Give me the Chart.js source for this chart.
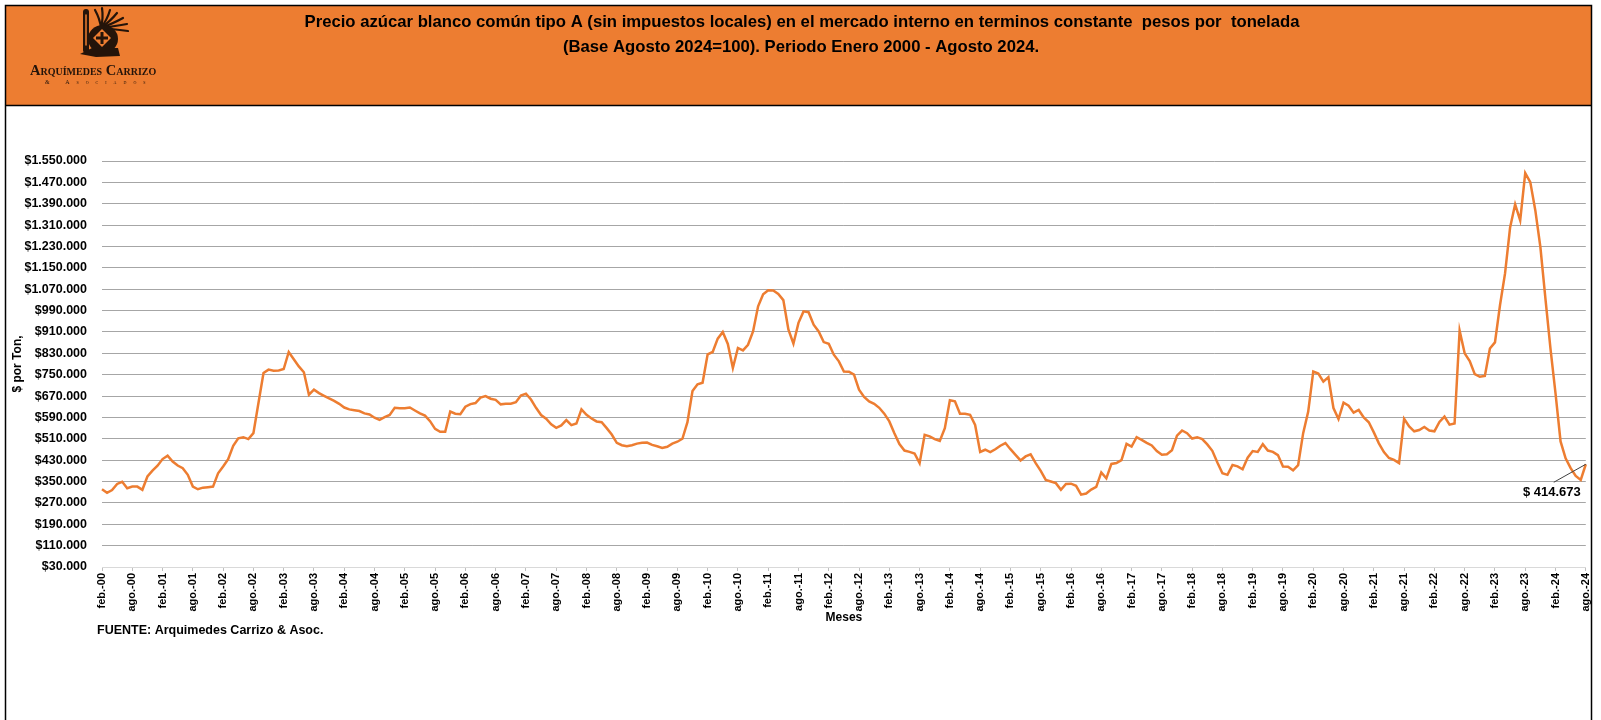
<!DOCTYPE html>
<html>
<head>
<meta charset="utf-8">
<script src="https://cdn.jsdelivr.net/npm/chart.js@4.4.1/dist/chart.umd.min.js"></script>
<style>
  html, body { margin: 0; padding: 0; background: #fff; }
  canvas { display: block; }
</style>
</head>
<body>
<canvas id="azucar" width="1601" height="720"></canvas>
<script>
// Precio azucar blanco (pesos constantes, base ago-2024), mensual feb-00 .. ago-24
const nombresMes = ["ene.", "feb.", "mar.", "abr.", "may.", "jun.", "jul.", "ago.", "sep.", "oct.", "nov.", "dic."];

const precios = [
  321000, 308000, 318000, 341000, 349000, 325000, 331000, 331000, 319000, 369000, 391000, 409000,
  434000, 447000, 425000, 410000, 400000, 375000, 331000, 321000, 327000, 329000, 331000, 381000,
  406000, 434000, 484000, 512000, 516000, 509000, 531000, 644000, 756000, 769000, 765000, 766000,
  771000, 835000, 808000, 781000, 759000, 675000, 694000, 681000, 671000, 661000, 652000, 641000,
  627000, 620000, 617000, 614000, 605000, 601000, 589000, 581000, 591000, 599000, 626000, 624000,
  624000, 627000, 616000, 605000, 597000, 576000, 547000, 536000, 536000, 612000, 604000, 602000,
  630000, 640000, 644000, 664000, 670000, 660000, 656000, 639000, 641000, 641000, 647000, 672000,
  679000, 657000, 626000, 599000, 585000, 564000, 551000, 560000, 580000, 561000, 567000, 620000,
  600000, 586000, 575000, 572000, 550000, 526000, 495000, 486000, 482000, 486000, 492000, 495000,
  496000, 487000, 482000, 476000, 480000, 492000, 499000, 510000, 572000, 689000, 714000, 720000,
  826000, 835000, 885000, 910000, 865000, 775000, 850000, 841000, 862000, 912000, 1006000, 1051000,
  1066000, 1065000, 1052000, 1029000, 919000, 866000, 944000, 987000, 984000, 937000, 912000, 872000,
  866000, 825000, 800000, 762000, 761000, 750000, 694000, 667000, 650000, 641000, 626000, 604000,
  575000, 531000, 490000, 466000, 461000, 455000, 419000, 525000, 519000, 509000, 502000, 550000,
  654000, 650000, 604000, 604000, 600000, 562000, 461000, 469000, 460000, 471000, 484000, 494000,
  471000, 450000, 429000, 444000, 452000, 419000, 390000, 356000, 350000, 344000, 319000, 341000,
  342000, 334000, 301000, 305000, 320000, 330000, 384000, 362000, 416000, 419000, 430000, 491000,
  481000, 516000, 506000, 495000, 485000, 464000, 450000, 452000, 467000, 522000, 541000, 531000,
  511000, 516000, 509000, 489000, 465000, 421000, 381000, 375000, 412000, 407000, 396000, 439000,
  464000, 461000, 490000, 466000, 461000, 449000, 406000, 405000, 392000, 411000, 531000, 612000,
  762000, 754000, 724000, 741000, 625000, 584000, 645000, 634000, 608000, 618000, 590000, 572000,
  534000, 493000, 460000, 438000, 431000, 419000, 585000, 556000, 538000, 543000, 554000, 541000,
  538000, 573000, 593000, 563000, 567000, 915000, 830000, 801000, 752000, 742000, 745000, 848000,
  871000, 1010000, 1129000, 1301000, 1388000, 1328000, 1505000, 1471000, 1365000, 1228000, 1035000, 848000,
  680000, 500000, 437000, 400000, 371000, 356000, 414673
];

// eje Y
const yMin = 30000;
const yMax = 1550000;
const yPaso = 80000;

const titulo1 = "Precio azúcar blanco común tipo A (sin impuestos locales) en el mercado interno en terminos constante  pesos por  tonelada";
const titulo2 = "(Base Agosto 2024=100). Periodo Enero 2000 - Agosto 2024.";
const fuente = "FUENTE: Arquimedes Carrizo & Asoc.";

// categorias: feb.-00, mar.-00 ...
const meses = [];
for (let i = 0; i < precios.length; i++) {
    const m = (1 + i) % 12;
    const anio = 2000 + Math.floor((1 + i) / 12);
    meses.push(nombresMes[m] + "-" + String(anio).slice(2));
}

function miles(v) {
    return String(Math.round(v)).replace(/\B(?=(\d{3})+(?!\d))/g, ".");
}

const FUENTE_TXT = "'Liberation Sans', Arial, sans-serif";

// marco, encabezado naranja, logo y textos sueltos
const marco = {
    id: "marco",
    beforeDraw(chart) {
        const c = chart.ctx;
        c.save();
        c.fillStyle = "#fff";
        c.fillRect(0, 0, chart.width, chart.height);

        c.fillStyle = "#ED7D31";
        c.fillRect(5, 5, 1586, 100);
        c.strokeStyle = "#000";
        c.lineWidth = 1.5;
        c.strokeRect(5.5, 5.5, 1586, 760);
        c.beginPath();
        c.moveTo(5, 105.5);
        c.lineTo(1592, 105.5);
        c.stroke();

        // titulo
        c.fillStyle = "#000";
        c.textAlign = "center";
        c.textBaseline = "middle";
        c.font = "bold 15px " + FUENTE_TXT;
        const size = 15 * 996 / c.measureText(titulo1).width;
        c.font = "bold " + size.toFixed(2) + "px " + FUENTE_TXT;
        c.fillText(titulo1, 802, 22);
        c.fillText(titulo2, 801, 47);

        dibujarLogo(c);

        // titulos de ejes y fuente
        const area = chart.chartArea;
        c.font = "bold 12px " + FUENTE_TXT;
        c.fillText("Meses", (area.left + area.right) / 2, 618);
        c.save();
        c.translate(18, (area.top + area.bottom) / 2);
        c.rotate(-Math.PI / 2);
        c.fillText("$ por Ton,", 0, 0);
        c.restore();

        c.textAlign = "left";
        c.font = "bold 12.5px " + FUENTE_TXT;
        c.fillText(fuente, 97, 631);
        c.restore();
    },
    afterDatasetsDraw(chart) {
        // etiqueta del ultimo valor
        const c = chart.ctx;
        const pts = chart.getDatasetMeta(0).data;
        const p = pts[pts.length - 1];
        c.save();
        c.strokeStyle = "#404040";
        c.lineWidth = 1;
        c.beginPath();
        c.moveTo(p.x, p.y);
        c.lineTo(p.x - 32, p.y + 18);
        c.stroke();
        c.fillStyle = "#000";
        c.font = "bold 13px " + FUENTE_TXT;
        c.textAlign = "right";
        c.textBaseline = "middle";
        c.fillText("$ " + miles(precios[precios.length - 1]), p.x - 5, p.y + 28);
        c.restore();
    }
};

function dibujarLogo(c) {
    c.save();
    const oscuro = "#24140a";
    c.fillStyle = oscuro;
    c.strokeStyle = oscuro;
    c.lineCap = "round";

    // baston
    c.lineWidth = 6;
    c.beginPath();
    c.moveTo(86, 12);
    c.lineTo(86, 50);
    c.stroke();
    c.strokeStyle = "#ED7D31";
    c.lineWidth = 1.5;
    c.beginPath();
    c.moveTo(86, 15);
    c.lineTo(86, 45);
    c.stroke();

    // plumas
    c.strokeStyle = oscuro;
    c.lineWidth = 2.2;
    const plumas = [[95, 10], [102, 8], [110, 10], [117, 13], [123, 18], [127, 24], [128, 31]];
    for (const [x, y] of plumas) {
        c.beginPath();
        c.moveTo(101, 28);
        c.quadraticCurveTo((101 + x) / 2 + 2, (28 + y) / 2, x, y);
        c.stroke();
    }

    // cuerpo
    c.beginPath();
    c.ellipse(103, 39, 15, 14, 0, 0, Math.PI * 2);
    c.fill();
    c.beginPath();
    c.moveTo(80, 54);
    c.lineTo(92, 48);
    c.lineTo(118, 48);
    c.lineTo(120, 56);
    c.lineTo(96, 57);
    c.closePath();
    c.fill();

    // rombo
    c.fillStyle = "#ED7D31";
    c.beginPath();
    c.moveTo(102, 29);
    c.lineTo(111, 38);
    c.lineTo(102, 47);
    c.lineTo(93, 38);
    c.closePath();
    c.fill();
    c.fillStyle = oscuro;
    c.fillRect(100.5, 32, 3, 12);
    c.fillRect(96, 36.5, 12, 3);

    // texto
    c.fillStyle = oscuro;
    c.textAlign = "left";
    c.textBaseline = "alphabetic";
    c.font = "small-caps bold 14.5px 'Liberation Serif', 'DejaVu Serif', serif";
    if ("fontVariantCaps" in c) c.fontVariantCaps = "small-caps";
    c.fillText("Arquímedes Carrizo", 30, 75);
    c.font = "small-caps 6px 'Liberation Serif', serif";
    if ("letterSpacing" in c) c.letterSpacing = "7px";
    c.fillText("& Asociados", 45, 84);
    c.restore();
}

const ctx = document.getElementById("azucar").getContext("2d");

new Chart(ctx, {
    type: "line",
    data: {
        labels: meses,
        datasets: [{
            data: precios,
            borderColor: "#ED7D31",
            borderWidth: 2.5,
            pointRadius: 0,
            tension: 0,
            fill: false
        }]
    },
    options: {
        responsive: false,
        animation: false,
        devicePixelRatio: 1,
        layout: { padding: { left: 0, right: 14, top: 161, bottom: 103 } },
        plugins: {
            legend: { display: false },
            tooltip: { enabled: false }
        },
        scales: {
            x: {
                offset: false,
                afterFit: s => { s.height = 50; },
                grid: {
                    drawOnChartArea: false,
                    drawTicks: true,
                    tickLength: 4,
                    color: c => (c.index % 6 === 0 ? "#bfbfbf" : "transparent")
                },
                border: { color: "#d9d9d9" },
                ticks: {
                    autoSkip: false,
                    maxRotation: 90,
                    minRotation: 90,
                    padding: 2,
                    color: "#000",
                    font: { family: FUENTE_TXT, size: 11, weight: "bold" },
                    callback: (v, i) => (i % 6 === 0 ? meses[i] : "")
                }
            },
            y: {
                min: yMin,
                max: yMax,
                afterFit: s => { s.width = 102; },
                grid: {
                    drawTicks: false,
                    color: c => (c.tick && c.tick.value === yMin ? "#d9d9d9" : "#a6a6a6")
                },
                border: { display: false },
                ticks: {
                    stepSize: yPaso,
                    padding: 15,
                    color: "#000",
                    font: { family: FUENTE_TXT, size: 12.5, weight: "bold" },
                    callback: v => "$" + miles(v)
                }
            }
        }
    },
    plugins: [marco]
});
</script>
</body>
</html>
